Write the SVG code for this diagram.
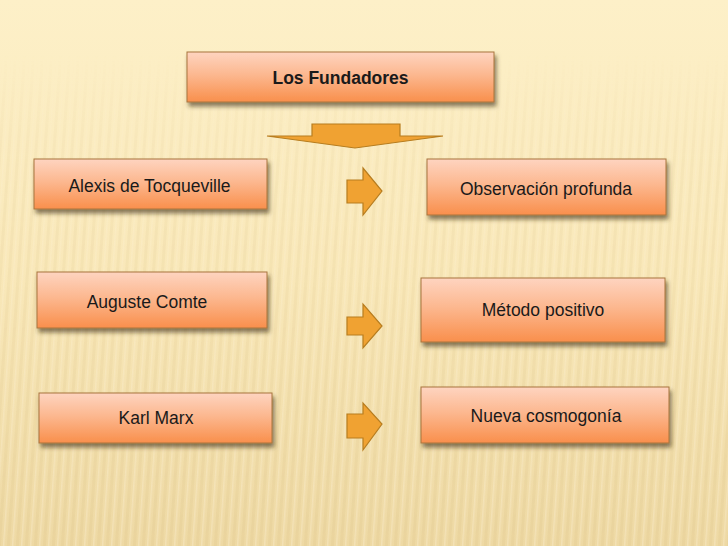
<svg xmlns="http://www.w3.org/2000/svg" width="728" height="546" viewBox="0 0 728 546">
<defs>
<linearGradient id="bg" x1="0" y1="0" x2="0" y2="1">
<stop offset="0" stop-color="#fdf0c8"/>
<stop offset="0.5" stop-color="#f9e8b9"/>
<stop offset="1" stop-color="#eed9a4"/>
</linearGradient>
<linearGradient id="fade" x1="0" y1="0" x2="0" y2="1">
<stop offset="0" stop-color="#fff" stop-opacity="0"/>
<stop offset="0.1" stop-color="#fff" stop-opacity="0"/>
<stop offset="0.3" stop-color="#fff" stop-opacity="0.6"/>
<stop offset="1" stop-color="#fff" stop-opacity="1"/>
</linearGradient>
<mask id="m"><rect width="728" height="546" fill="url(#fade)"/></mask>
<pattern id="stripes" width="9" height="546" patternUnits="userSpaceOnUse" patternTransform="skewX(-4)">
<rect x="0" y="0" width="3" height="546" fill="#d9bf80" opacity="0.18"/>
<rect x="5" y="0" width="1.5" height="546" fill="#fff8e0" opacity="0.3"/>
</pattern>
<linearGradient id="box" x1="0" y1="0" x2="0" y2="1">
<stop offset="0" stop-color="#fed4c0"/>
<stop offset="0.45" stop-color="#fcb890"/>
<stop offset="1" stop-color="#f98f4c"/>
</linearGradient>
<filter id="sh" x="-10%" y="-20%" width="125%" height="160%">
<feDropShadow dx="2" dy="4" stdDeviation="2" flood-color="#3a2a10" flood-opacity="0.6"/>
</filter>
<style>
.box{fill:url(#box);stroke:#a8753c;stroke-width:1;filter:url(#sh)}
.arr{fill:#f0a232;stroke:#b77d1f;stroke-width:1.2;stroke-linejoin:miter}
text{font-family:"Liberation Sans",Arial,sans-serif;font-size:17.5px;fill:#1a1a1a;text-anchor:middle}
.b{font-weight:bold;font-size:17.5px}
</style>
</defs>
<rect width="728" height="546" fill="url(#bg)"/>
<rect width="728" height="546" fill="url(#stripes)" mask="url(#m)"/>

<g id="los-fundadores">
<rect class="box" x="187" y="52" width="307" height="50"/>
<text class="b" x="340.5" y="84">Los Fundadores</text>
</g>
<g id="alexis">
<rect class="box" x="34" y="159" width="233" height="50"/>
<text x="149.5" y="192">Alexis de Tocqueville</text>
</g>
<g id="observacion">
<rect class="box" x="427" y="159" width="239" height="56"/>
<text x="546" y="195">Observación profunda</text>
</g>
<g id="auguste">
<rect class="box" x="37" y="272" width="230" height="56"/>
<text x="147" y="307.5">Auguste Comte</text>
</g>
<g id="metodo">
<rect class="box" x="421" y="278" width="244" height="64"/>
<text x="543" y="315.5">Método positivo</text>
</g>
<g id="karl">
<rect class="box" x="39" y="393" width="233" height="50"/>
<text x="156" y="424">Karl Marx</text>
</g>
<g id="nueva">
<rect class="box" x="421" y="387" width="248" height="56"/>
<text x="546" y="422">Nueva cosmogonía</text>
</g>

<g id="connectors">
<polygon class="arr" points="312,124 400,124 400,136 443,136 355,148 267,136 312,136"/>
<polygon class="arr" points="347,180 363,180 363,168 382,191 363,215 363,203 347,203"/>
<polygon class="arr" points="347,317 363,317 363,304 382,326 363,348 363,335 347,335"/>
<polygon class="arr" points="347,414 363,414 363,403 382,424 363,450 363,438 347,438"/>
</g>
</svg>
